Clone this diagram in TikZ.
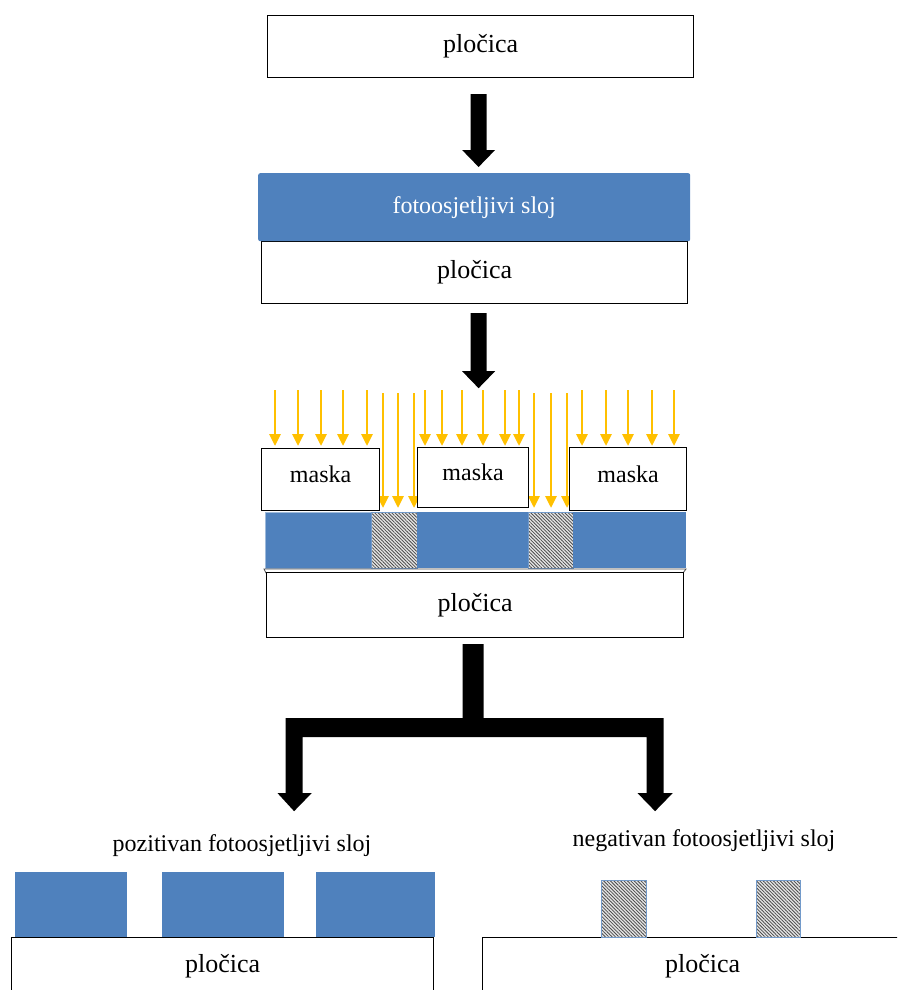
\documentclass[tikz,border=0pt]{standalone}
\usepackage{fontspec}
\setmainfont{Liberation Serif}
\usetikzlibrary{calc}
\usetikzlibrary{arrows.meta}
\usetikzlibrary{patterns.meta}

\definecolor{resistblue}{HTML}{4F81BD}
\definecolor{lightray}{HTML}{FFC000}

\tikzset{
    plate/.style={draw, line width=1.2pt, fill=white, inner sep=0pt, anchor=north west,
        font=\fontsize{26}{30}\selectfont},
    masknode/.style={draw, line width=1.2pt, fill=white, inner sep=0pt, anchor=north west,
        text depth=10pt, font=\fontsize{24}{28}\selectfont},
    exposed/.style={draw=resistblue!80, line width=0.6pt, preaction={fill=gray!20},
        pattern={Lines[angle=-45,distance=2.4pt,line width=0.8pt]}, pattern color=black!70},
    ray/.style={lightray, line width=2.8pt, -{Triangle[width=11pt,length=12pt]}},
    caption/.style={font=\fontsize{24}{28}\selectfont}
}

% block arrow pointing down, shaft from #1 to tip #2
\newcommand{\blockdown}[2]{%
    \fill ($(#1)+(-8,0)$) -- ($(#1)+(8,0)$) -- ($(#2)+(8,-17)$) -- ($(#2)+(16.5,-17)$)
        -- (#2) -- ($(#2)+(-16.5,-17)$) -- ($(#2)+(-8,-17)$) -- cycle;}

\begin{document}
\begin{tikzpicture}[x=1pt, y=-1pt]
    \useasboundingbox (0,0) rectangle (897,990);
    \clip (0,0) rectangle (897,990);

    % step 1
    \node [plate, minimum width=426pt, minimum height=62pt] (wafer1) at (267,15) {pločica};

    % step 2
    \node [plate, minimum width=426pt, minimum height=62pt] (wafer2) at (261,241) {pločica};
    \node [anchor=north west, fill=resistblue, rounded corners=2pt, minimum width=432pt,
        minimum height=68pt, text=white, font=\fontsize{24}{28}\selectfont] (resist1) at (258,173) {fotoosjetljivi sloj};
    \coordinate (a1s) at ($(wafer1.south)+(-2,16)$);
    \coordinate (a1e) at ($(a1s |- resist1.north)+(0,-6)$);
    \blockdown{a1s}{a1e}

    % step 3: exposure through mask
    \coordinate (a2s) at ($(wafer2.south)+(4,9)$);
    \coordinate (a2e) at ($(a2s)+(0,75)$);
    \blockdown{a2s}{a2e}

    \foreach \x in {275,298,321,343,367,425,442,462,483,505,519,582,606,628,652,674}
        \draw [ray] (\x,390) -- (\x,446);
    \foreach \x in {383,398,414,534,551,567}
        \draw [ray] (\x,393) -- (\x,508);

    \node [masknode, minimum width=118pt, minimum height=62pt] (mask1) at (261,448) {maska};
    \node [masknode, minimum width=111pt, minimum height=60pt] (mask2) at (417,447) {maska};
    \node [masknode, minimum width=117pt, minimum height=63pt] (mask3) at (569,447) {maska};

    \fill [resistblue, draw=resistblue!55, line width=0.8pt] (265,512) rectangle (371,568);
    \draw [exposed] (371,512) rectangle (417,568);
    \fill [resistblue] (417,512) rectangle (528,568);
    \draw [exposed] (528,512) rectangle (573,568);
    \fill [resistblue] (573,512) rectangle (686,568);
    \draw [line width=0.8pt, black!70] (264,569) -- (686,569) -- (683,573) -- (266,573) -- cycle;

    \node [plate, minimum width=417pt, minimum height=65pt] (wafer3) at (266,572) {pločica};

    % split into the two resist types
    \coordinate (a3s) at ($(wafer3.south)+(-2,6)$);
    \fill [shift={(a3s)}] (-10.5,0) -- (10.5,0) -- (10.5,74) -- (190.5,74) -- (190.5,149)
        -- (199.5,149) -- (182,167) -- (164.5,149) -- (173.5,149) -- (173.5,93)
        -- (-170.5,93) -- (-170.5,149) -- (-161.5,149) -- (-179,167) -- (-195.5,149)
        -- (-187.5,149) -- (-187.5,74) -- (-10.5,74) -- cycle;

    \node [caption] (postext) at (242,846) {pozitivan fotoosjetljivi sloj};
    \node [caption] (negtext) at (704,841) {negativan fotoosjetljivi sloj};

    % positive resist
    \node [plate, minimum width=422pt, minimum height=58pt] (wafer4) at (11,937) {pločica};
    \fill [resistblue] (15,872) rectangle (127,937);
    \fill [resistblue] (162,872) rectangle (284,937);
    \fill [resistblue] (316,872) rectangle (435,937);

    % negative resist
    \node [plate, minimum width=440pt, minimum height=58pt] (wafer5) at (482,937) {pločica};
    \draw [exposed] (601,880) rectangle (646,937);
    \draw [exposed] (756,880) rectangle (800,937);
\end{tikzpicture}
\end{document}
